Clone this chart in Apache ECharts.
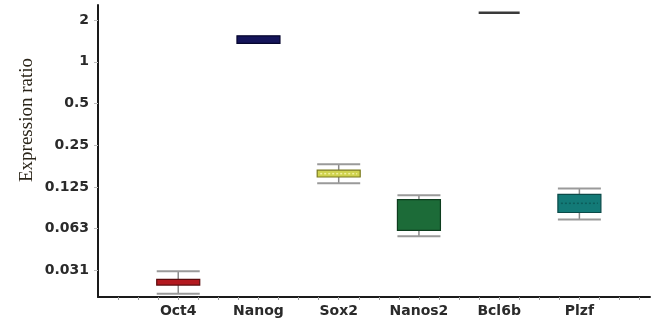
<!DOCTYPE html>
<html><head><meta charset="utf-8">
<script src="https://cdn.jsdelivr.net/npm/echarts@6/dist/echarts.min.js"></script>
<style>html,body{margin:0;padding:0;background:#fff}#c{width:651px;height:322px}</style>
</head><body><div id="c"></div>
<script>
const categories = ['Oct4', 'Nanog', 'Sox2', 'Nanos2', 'Bcl6b', 'Plzf'];
const positions = [1, 2, 3, 4, 5, 6];
const whiskerLow = [0.0212, 1.358, 0.1329, 0.0552, 2.26, 0.0727];
const q1 = [0.0245, 1.358, 0.1476, 0.0607, 2.26, 0.0818];
const median = [0.0256, 1.45, 0.156, 0.080, 2.26, 0.0953];
const q3 = [0.0269, 1.541, 0.1652, 0.1013, 2.26, 0.1107];
const whiskerHigh = [0.0308, 1.541, 0.1823, 0.1089, 2.26, 0.1217];
const yTickLabels = {'2': '2', '1': '1', '0.5': '0.5', '0.25': '0.25', '0.125': '0.125', '0.0625': '0.063', '0.03125': '0.031'};
const yAxisTitle = 'Expression ratio';

const fills = ['#b3191f', '#15155a', '#cfd24e', '#1c6b38', '#3a3a3a', '#137a77'];
const borders = ['#5c0c0e', '#06062e', '#7a7a1e', '#0d3d1e', '#222222', '#0a4a48'];
const medianStyles = [null, null, {c: '#f2f2a0', dash: [2, 2]}, null, null, {c: '#0c5d5b', dash: [2, 2]}];

const data = positions.map((p, i) => [p, whiskerLow[i], q1[i], median[i], q3[i], whiskerHigh[i], i]);

const chart = echarts.init(document.getElementById('c'));
chart.setOption({
  animation: false,
  grid: {left: 98, right: 1, top: 5, bottom: 25},
  graphic: [{
    type: 'text', x: 27, y: 120, rotation: Math.PI / 2,
    style: {text: yAxisTitle, fontFamily: 'Liberation Serif', fontSize: 19, fill: '#2a2418',
      align: 'center', verticalAlign: 'middle'}
  }],
  xAxis: {
    type: 'value', min: 0, max: 6.88, interval: 0.25,
    axisLine: {lineStyle: {color: '#1a1a1a', width: 2}},
    axisTick: {show: true, length: 3, lineStyle: {color: '#999999'}},
    splitLine: {show: false},
    axisLabel: {
      margin: 7, color: '#2a2a2a', fontWeight: 'bold', fontSize: 14, fontFamily: 'DejaVu Sans',
      showMinLabel: false, showMaxLabel: false,
      formatter: v => {
        const i = positions.indexOf(Math.round(v * 100) / 100);
        return i >= 0 ? categories[i] : '';
      }
    }
  },
  yAxis: {
    type: 'log', logBase: 2, min: 0.0201, max: 2.57, splitNumber: 7,
    axisLine: {show: true, lineStyle: {color: '#1a1a1a', width: 2}},
    axisTick: {show: true, length: 4, lineStyle: {color: '#bbbbbb'}},
    splitLine: {show: false},
    axisLabel: {
      margin: 9, color: '#2a2a2a', fontWeight: 'bold', fontSize: 14, fontFamily: 'DejaVu Sans',
      showMinLabel: false, showMaxLabel: false,
      formatter: v => {
        const k = String(Math.round(v * 100000) / 100000);
        return yTickLabels[k] !== undefined ? yTickLabels[k] : '';
      }
    }
  },
  series: [{
    type: 'custom',
    data: data,
    encode: {x: 0, y: [1, 2, 3, 4, 5]},
    renderItem: (params, api) => {
      const x = api.value(0);
      const i = api.value(6);
      const pLo = api.coord([x, api.value(1)]);
      const pQ1 = api.coord([x, api.value(2)]);
      const pMed = api.coord([x, api.value(3)]);
      const pQ3 = api.coord([x, api.value(4)]);
      const pHi = api.coord([x, api.value(5)]);
      const hw = 21.5;
      const cx = pLo[0];
      const children = [];
      const wStyle = {stroke: '#8a8a8a', lineWidth: 1.5};
      const capStyle = {stroke: '#9a9a9a', lineWidth: 2};
      if (pHi[1] < pQ3[1] - 0.5) {
        children.push({type: 'line', shape: {x1: cx, y1: pHi[1], x2: cx, y2: pQ3[1]}, style: wStyle});
        children.push({type: 'line', shape: {x1: cx - hw, y1: pHi[1], x2: cx + hw, y2: pHi[1]}, style: capStyle});
      }
      if (pLo[1] > pQ1[1] + 0.5) {
        children.push({type: 'line', shape: {x1: cx, y1: pQ1[1], x2: cx, y2: pLo[1]}, style: wStyle});
        children.push({type: 'line', shape: {x1: cx - hw, y1: pLo[1], x2: cx + hw, y2: pLo[1]}, style: capStyle});
      }
      const h = pQ1[1] - pQ3[1];
      if (h > 1) {
        children.push({type: 'rect', shape: {x: cx - hw, y: pQ3[1], width: hw * 2, height: h},
          style: {fill: fills[i], stroke: borders[i], lineWidth: 1.2}});
        const ms = medianStyles[i];
        if (ms) {
          children.push({type: 'line', shape: {x1: cx - hw + 3, y1: pMed[1], x2: cx + hw - 3, y2: pMed[1]},
            style: {stroke: ms.c, lineWidth: 1.5, lineDash: ms.dash}});
        }
      } else {
        children.push({type: 'line', shape: {x1: cx - hw + 1, y1: pMed[1], x2: cx + hw - 1, y2: pMed[1]},
          style: {stroke: fills[i], lineWidth: 2.5}});
      }
      return {type: 'group', children: children};
    }
  }]
});
</script></body></html>
